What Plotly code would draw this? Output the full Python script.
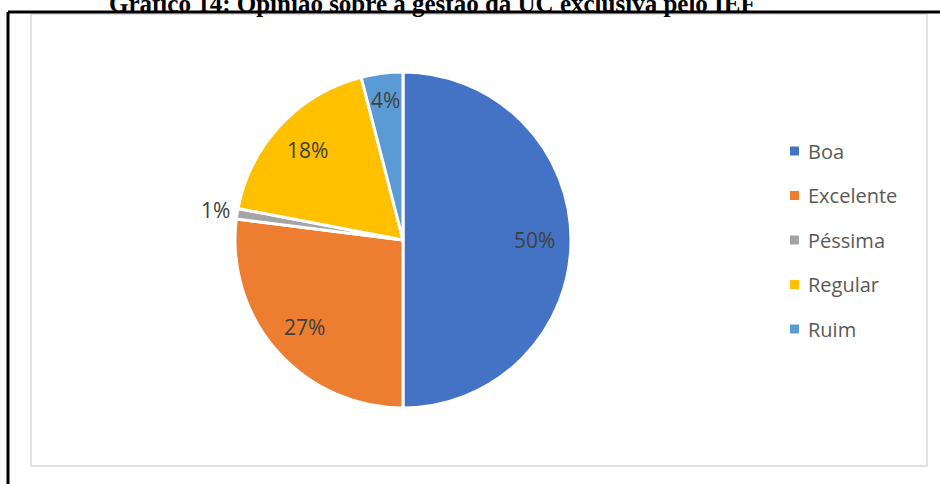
import math
import plotly.graph_objects as go

# ---- data ----
categories = ["Boa", "Excelente", "Péssima", "Regular", "Ruim"]
percentages = [50, 27, 1, 18, 4]
colors = ["#4472C4", "#ED7D31", "#A5A5A5", "#FFC000", "#5B9BD5"]
title_text = "Gráfico 14: Opinião sobre a gestão da UC exclusiva pelo IEF"

# ---- geometry (pixels) ----
W, H = 940, 484
cx, cy, R = 403, 240, 168


def px(x):
    return x / W


def py(y):
    return 1 - y / H


fig = go.Figure()
fig.add_trace(go.Pie(
    labels=categories,
    values=percentages,
    sort=False,
    direction="clockwise",
    rotation=0,
    marker=dict(colors=colors, line=dict(color="white", width=3)),
    textinfo="none",
    showlegend=False,
    domain=dict(x=[px(cx - R), px(cx + R)], y=[py(cy + R), py(cy - R)]),
))

annotations = []
shapes = []

# percentage labels placed along each slice bisector
total = sum(percentages)
start = 0.0
for cat, val in zip(categories, percentages):
    share = val / total
    span = share * 360
    mid = math.radians(start + span / 2)
    start += span
    if share < 0.02:
        r = R + 22          # tiny slice: label outside the pie
    elif share < 0.05:
        r = R * 0.84
    else:
        r = R * 0.78
    lx = cx + r * math.sin(mid)
    ly = cy - r * math.cos(mid)
    annotations.append(dict(
        x=px(lx), y=py(ly), xref="paper", yref="paper",
        text=f"{round(share * 100)}%", showarrow=False,
        xanchor="center", yanchor="middle",
        font=dict(family="Open Sans", size=21, color="#404040"),
    ))

# legend: coloured squares with category names
leg_x, leg_y0, leg_dy, sq = 790, 151, 44.5, 9
for i, (cat, col) in enumerate(zip(categories, colors)):
    yy = leg_y0 + i * leg_dy
    shapes.append(dict(
        type="rect", xref="paper", yref="paper",
        x0=px(leg_x), x1=px(leg_x + sq), y0=py(yy + sq / 2), y1=py(yy - sq / 2),
        fillcolor=col, line=dict(width=0),
    ))
    annotations.append(dict(
        x=px(leg_x + 16), y=py(yy), xref="paper", yref="paper",
        text=cat, showarrow=False, xanchor="left", yanchor="middle",
        font=dict(family="Open Sans", size=20, color="#595959"),
    ))

# chart area frame
shapes.append(dict(
    type="rect", xref="paper", yref="paper",
    x0=px(31), x1=px(927), y0=py(466), y1=py(14),
    line=dict(color="#D9D9D9", width=1.5), fillcolor="rgba(0,0,0,0)",
))
# outer page border (top and left)
shapes.append(dict(type="line", xref="paper", yref="paper",
                   x0=px(8), x1=1, y0=py(12), y1=py(12),
                   line=dict(color="black", width=3)))
shapes.append(dict(type="line", xref="paper", yref="paper",
                   x0=px(8), x1=px(8), y0=py(12), y1=0,
                   line=dict(color="black", width=3)))

# title, running above the top edge of the page
annotations.append(dict(
    x=px(432), y=py(19), xref="paper", yref="paper",
    text=f"<b>{title_text}</b>", showarrow=False,
    xanchor="center", yanchor="bottom",
    font=dict(family="Liberation Serif", size=25, color="black"),
))

fig.update_layout(
    width=W, height=H,
    margin=dict(l=0, r=0, t=0, b=0),
    paper_bgcolor="white",
    plot_bgcolor="white",
    annotations=annotations,
    shapes=shapes,
)

fig.write_html("out.html")
